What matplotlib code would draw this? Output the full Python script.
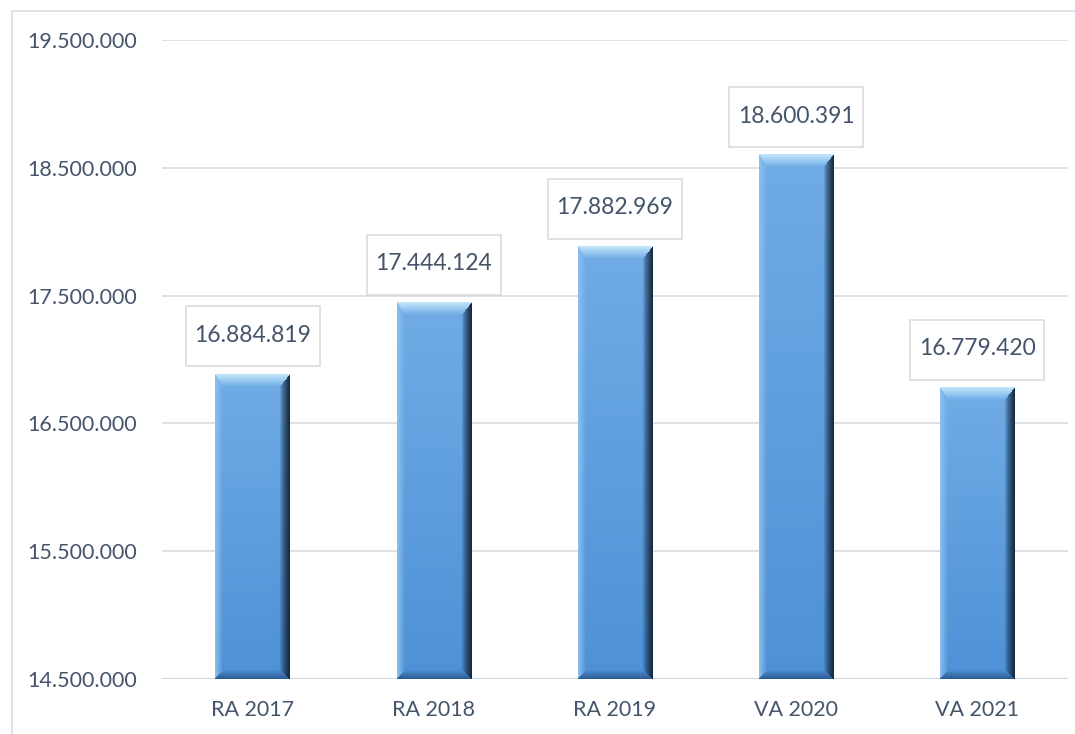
import numpy as np
import matplotlib.pyplot as plt
import matplotlib.transforms as mtransforms
from matplotlib.patches import Rectangle

# Data
categories = ['RA 2017', 'RA 2018', 'RA 2019', 'VA 2020', 'VA 2021']
values = [16884819, 17444124, 17882969, 18600391, 16779420]
labels = ['16.884.819', '17.444.124', '17.882.969', '18.600.391', '16.779.420']
y_ticks = [14500000, 15500000, 16500000, 17500000, 18500000, 19500000]
y_ticklabels = ['14.500.000', '15.500.000', '16.500.000', '17.500.000', '18.500.000', '19.500.000']

TXT = '#44546A'
GRID = '#D9D9D9'
plt.rcParams['font.family'] = ['Lato', 'DejaVu Sans']

fig = plt.figure(figsize=(10.75, 7.34), dpi=100)
W_PX, H_PX = 1075, 734
ax = fig.add_axes([162 / W_PX, (H_PX - 679) / H_PX, (1068 - 162) / W_PX, (679 - 40) / H_PX])
ax.set_xlim(-0.5, len(categories) - 0.5)
ax.set_ylim(y_ticks[0], y_ticks[-1])

# outer chart border (runs off right / bottom edge)
fig.patches.append(Rectangle((12 / W_PX, -0.1), 1.2, (H_PX - 11) / H_PX + 0.1,
                             transform=fig.transFigure, fill=False,
                             edgecolor='#D9DEE6', lw=1.2))

for s in ax.spines.values():
    s.set_visible(False)
ax.set_yticks(y_ticks)
ax.set_yticklabels(y_ticklabels)
ax.set_xticks(range(len(categories)))
ax.set_xticklabels(categories)
ax.tick_params(axis='both', length=0, colors=TXT, labelsize=15.5)
ax.tick_params(axis='y', pad=18)
ax.tick_params(axis='x', pad=15)
ax.grid(axis='y', color=GRID, lw=1.1)
ax.set_axisbelow(True)
ax.axhline(y_ticks[0], color='#D0D8E2', lw=1.6, zorder=1)

bar_w = 0.41


def bevel_image(wp, hp):
    # bevelled bar face, pixel sized
    yy, xx = np.mgrid[0:hp, 0:wp].astype(float)
    dl = xx + 0.5
    dr = wp - xx - 0.5
    dt = yy + 0.5
    db = hp - yy - 0.5
    t = yy / max(hp - 1, 1)
    face = np.stack([112 - 34 * t, 172 - 27 * t, 230 - 16 * t], axis=-1)
    img = face.copy()
    b_top, b_side, b_right, b_bot = 13.0, 8.0, 10.0, 9.0
    nt = dt / b_top
    nl = dl / b_side
    nr = dr / b_right
    nb = db / b_bot
    stack = np.stack([nt, nl, nr, nb], axis=-1)
    which = np.argmin(stack, axis=-1)
    mn = np.min(stack, axis=-1)
    edge_cols = [np.array([195, 232, 252]), np.array([140, 192, 240]),
                 np.array([20, 38, 62]), np.array([45, 90, 145])]
    for k in range(4):
        m = (which == k) & (mn < 1)
        f = (1 - mn[m])[:, None]
        if k == 2:
            f = f ** 0.7
        img[m] = img[m] * (1 - f) + edge_cols[k] * f
    return np.clip(img, 0, 255).astype(np.uint8)


for i, v in enumerate(values):
    x0, x1 = i - bar_w / 2, i + bar_w / 2
    p0 = ax.transData.transform((x0, y_ticks[0]))
    p1 = ax.transData.transform((x1, v))
    wp = int(round(p1[0] - p0[0]))
    hp = int(round(p1[1] - p0[1]))
    ax.imshow(bevel_image(wp, hp), extent=(x0, x1, y_ticks[0], v), aspect='auto',
              interpolation='bilinear', zorder=2)

    # label box (fixed pixel size above bar top)
    trans = fig.dpi_scale_trans + mtransforms.ScaledTranslation(i, v, ax.transData)
    ax.add_patch(Rectangle((-0.67, 0.08), 1.34, 0.60, transform=trans, facecolor='white',
                           edgecolor=GRID, lw=1.1, zorder=3, clip_on=False))
    ax.annotate(labels[i], xy=(i, v), xytext=(0, 28), textcoords='offset points',
                ha='center', va='center', color=TXT, fontsize=16.5, zorder=4)

ax.set_xlim(-0.5, len(categories) - 0.5)
ax.set_ylim(y_ticks[0], y_ticks[-1])
fig.savefig('out.png', dpi=100)
